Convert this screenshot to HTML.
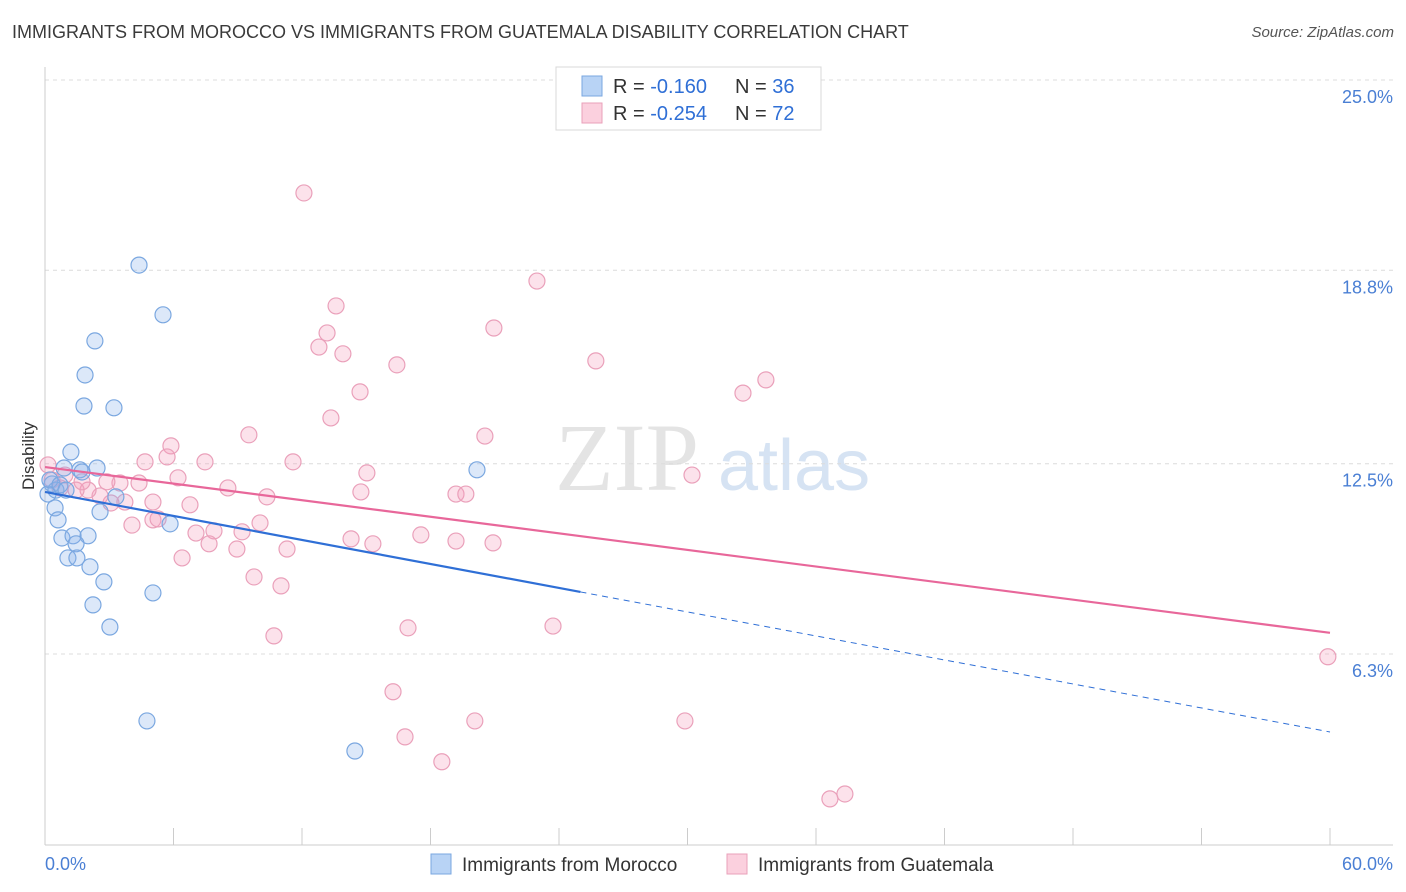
<!DOCTYPE html>
<html><head><meta charset="utf-8"><style>
body{margin:0;background:#fff;font-family:"Liberation Sans",sans-serif;}
#wrap{position:relative;width:1406px;height:892px;overflow:hidden;}
.title{position:absolute;left:12px;top:22px;font-size:18px;color:#3a3a3a;}
.source{position:absolute;right:12px;top:24px;font-size:15px;color:#555;font-style:italic;}
</style></head><body>
<div id="wrap">
<div class="title">IMMIGRANTS FROM MOROCCO VS IMMIGRANTS FROM GUATEMALA DISABILITY CORRELATION CHART</div>
<div class="source">Source: ZipAtlas.com</div>
<svg id="svg" width="1406" height="892" style="position:absolute;left:0;top:0"></svg>
</div>
<script>
const yTicks=[25.0,18.8,12.5,6.3];
const yTickLabels=["25.0%","18.8%","12.5%","6.3%"];
const xTickVals=[0,6,12,18,24,30,36,42,48,54,60];
const moroccoX=[4.39,5.51,2.33,1.87,1.82,3.22,1.21,2.43,1.63,0.89,0.33,0.14,0.51,0.47,0.61,2.57,3.31,5.84,0.79,1.31,2.01,1.45,1.07,1.49,2.10,2.75,5.04,2.24,3.03,4.76,14.47,20.17,0.23,0.70,1.73,0.98];
const moroccoY=[18.97,17.35,16.5,15.39,14.38,14.32,12.88,12.36,12.30,12.36,11.84,11.51,11.64,11.06,10.67,10.93,11.42,10.54,10.08,10.15,10.15,9.89,9.43,9.43,9.14,8.65,8.29,7.90,7.18,4.12,3.14,12.30,11.97,11.81,12.23,11.64];
const guatX=[12.09,22.97,13.59,20.96,13.17,12.79,13.91,16.43,25.72,33.66,32.59,14.71,13.35,9.52,20.54,5.88,5.70,4.67,7.47,11.58,15.03,30.21,6.21,4.39,8.54,14.75,10.36,19.19,19.65,6.77,3.73,5.04,3.08,2.57,3.50,2.01,1.45,0.70,0.33,0.93,1.73,10.04,4.06,5.04,5.28,7.05,7.89,9.20,14.29,17.55,19.19,20.92,15.31,7.66,8.96,11.30,6.40,9.76,11.02,10.69,16.95,23.72,16.25,16.81,20.07,29.88,18.53,36.65,37.35,59.90,0.14,2.89];
const guatY=[21.32,18.45,17.64,16.92,16.76,16.30,16.08,15.72,15.85,15.23,14.80,14.84,13.99,13.44,13.40,13.08,12.72,12.56,12.56,12.56,12.20,12.13,12.04,11.87,11.71,11.58,11.42,11.51,11.51,11.16,11.25,11.25,11.22,11.45,11.87,11.64,11.64,11.71,11.97,12.13,11.91,10.57,10.50,10.67,10.70,10.24,10.31,10.28,10.05,10.18,9.98,9.92,9.89,9.89,9.72,9.72,9.43,8.81,8.52,6.89,7.15,7.21,5.07,3.60,4.12,4.12,2.79,1.58,1.74,6.21,12.46,11.91];
const moroccoTrend=[11.58,3.76]; const moroccoSolidEnd=25;
const guatTrend=[12.39,6.99];

const X=v=>45+v*(1330-45)/60;
const Y=v=>80+(25-v)*(654-80)/18.7;
const svg=document.getElementById('svg');
const NS='http://www.w3.org/2000/svg';
function mk(t,a){const e=document.createElementNS(NS,t);for(const k in a)e.setAttribute(k,a[k]);svg.appendChild(e);return e;}

// watermark
let wm=mk('text',{x:555,y:490,'font-size':96,fill:'#e4e4e4','font-family':'Liberation Serif,serif'});wm.textContent='ZIP';


let wm2=mk('text',{x:718,y:490,'font-size':72,fill:'#d6e3f3','font-family':'Liberation Sans,sans-serif'});wm2.textContent='atlas';



yTicks.forEach((v,i)=>{
 const g=mk('line',{x1:45,x2:1393,y1:Y(v),y2:Y(v),stroke:'#dcdcdc','stroke-dasharray':'4,4'});
 
 
 const t=mk('text',{x:1393,y:Y(v)+23,'text-anchor':'end','font-size':18,fill:'#4a7fd4'});t.textContent=yTickLabels[i];
 
 
});
let ax=mk('line',{x1:45,x2:45,y1:67,y2:845,stroke:'#ccc'});


let bx=mk('line',{x1:45,x2:1393,y1:845,y2:845,stroke:'#ccc'});


xTickVals.forEach(v=>{const l=mk('line',{x1:X(v),x2:X(v),y1:828,y2:845,stroke:'#ccc'});
 
 });
let xl=mk('text',{x:45,y:870,'font-size':18,fill:'#4a7fd4'});xl.textContent='0.0%';


let xr=mk('text',{x:1393,y:870,'text-anchor':'end','font-size':18,fill:'#4a7fd4'});xr.textContent='60.0%';


let yt=mk('text',{x:34,y:456,'font-size':17,fill:'#333','text-anchor':'middle',transform:'rotate(-90 34 456)'});yt.textContent='Disability';



guatX.forEach((x,i)=>{const c=mk('circle',{cx:X(x),cy:Y(guatY[i]),r:8,fill:'rgba(244,160,190,0.3)',stroke:'#eaa0ba','stroke-width':1.2});
 
 });
moroccoX.forEach((x,i)=>{const c=mk('circle',{cx:X(x),cy:Y(moroccoY[i]),r:8,fill:'rgba(140,180,235,0.3)',stroke:'#7aa7e0','stroke-width':1.2});
 
 });

const mY=x=>moroccoTrend[0]+(moroccoTrend[1]-moroccoTrend[0])*x/60;
let t1=mk('line',{x1:X(0),y1:Y(mY(0)),x2:X(moroccoSolidEnd),y2:Y(mY(moroccoSolidEnd)),stroke:'#2f6fd6','stroke-width':2.2});


let t2=mk('line',{x1:X(moroccoSolidEnd),y1:Y(mY(moroccoSolidEnd)),x2:X(60),y2:Y(mY(60)),stroke:'#2f6fd6','stroke-width':1,'stroke-dasharray':'6,5'});


let t3=mk('line',{x1:X(0),y1:Y(guatTrend[0]),x2:X(60),y2:Y(guatTrend[1]),stroke:'#e8679a','stroke-width':2.2});



// top legend
let lb=mk('rect',{x:556,y:67,width:265,height:63,fill:'#fff',stroke:'#d8d8d8'});


[[86,'#b8d3f5','#7aa7e0','-0.160','36'],[113,'#fbd0de','#eaa0ba','-0.254','72']].forEach(r=>{
 const s=mk('rect',{x:582,y:r[0]-10,width:20,height:20,fill:r[1],stroke:r[2]});
 
 
 const t=mk('text',{x:613,y:r[0]+7,'font-size':20,fill:'#333'});
 t.innerHTML='R = <tspan fill="#2f6fd6">'+r[3]+'</tspan><tspan x="735">N = </tspan><tspan fill="#2f6fd6">'+r[4]+'</tspan>';
 
 
});
// bottom legend
[[431,'#b8d3f5','#7aa7e0','Immigrants from Morocco'],[727,'#fbd0de','#eaa0ba','Immigrants from Guatemala']].forEach(r=>{
 const s=mk('rect',{x:r[0],y:854,width:20,height:20,fill:r[1],stroke:r[2]});
 
 
 const t=mk('text',{x:r[0]+31,y:871,'font-size':19,fill:'#333'});t.textContent=r[3];
 
 
});
</script>
</body></html>
